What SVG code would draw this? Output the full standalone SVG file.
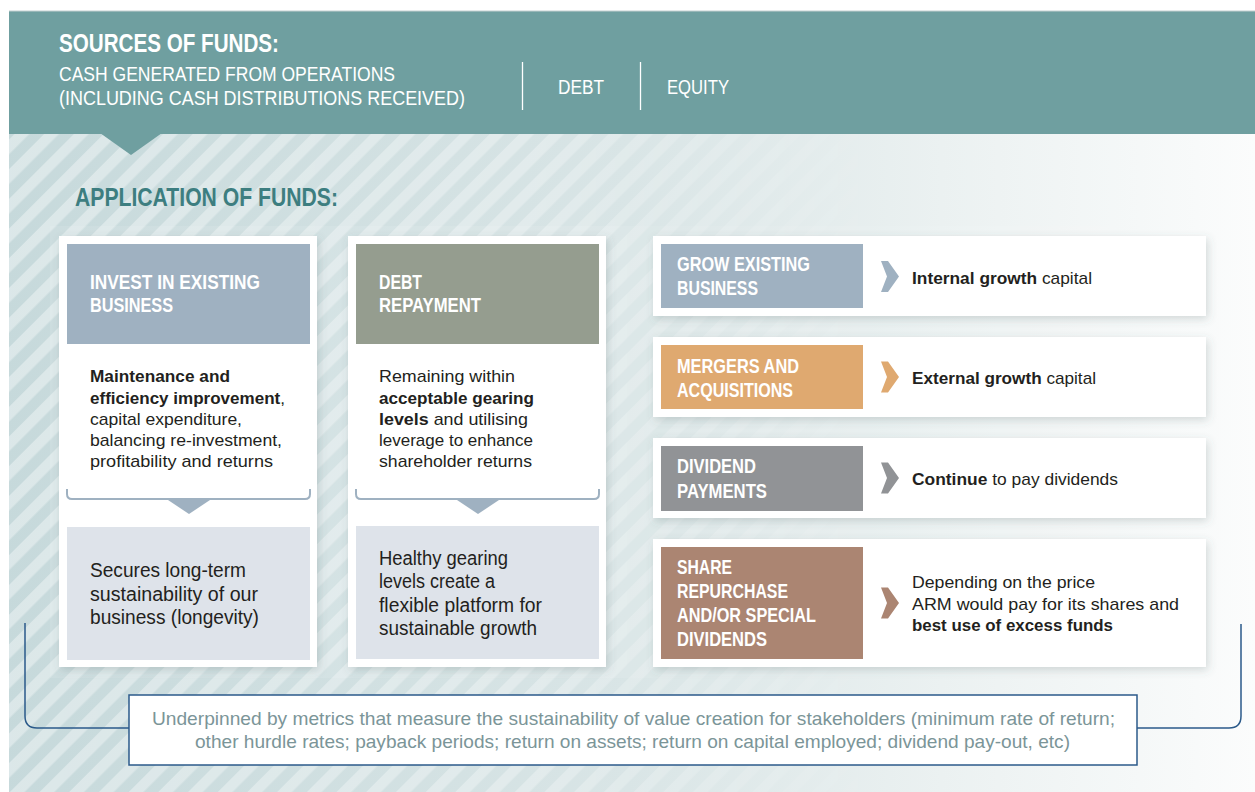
<svg xmlns="http://www.w3.org/2000/svg" width="1255" height="792" viewBox="0 0 1255 792">
<defs>
<style>
.cond{font-family:"Liberation Sans Narrow","Liberation Sans",Arial,sans-serif}
.hd{font-weight:bold;fill:#ffffff}
.hr{fill:#ffffff;font-size:19.5px}
.tl{font-weight:bold;fill:#ffffff;font-size:21px}
.tr{font-weight:bold;fill:#ffffff;font-size:20px}
.body{font-family:"Liberation Sans",Arial,sans-serif;fill:#231f20}
.s17{font-size:17px}
.s19{font-size:19.5px}
.b{font-weight:bold}
.card{fill:#ffffff;filter:url(#sh)}
.brk{fill:none;stroke:#9fb1c1;stroke-width:2}
.conn{fill:none;stroke:#2b5a8a;stroke-width:1.5}
.foot{font-family:"Liberation Sans",Arial,sans-serif;fill:#7b9598;font-size:18.5px}
</style>
<linearGradient id="bgG" x1="0" y1="0" x2="1255" y2="0" gradientUnits="userSpaceOnUse">
<stop offset="0" stop-color="#c6d9db"/>
<stop offset="0.5" stop-color="#d9e5e6"/>
<stop offset="0.75" stop-color="#ebf1f1"/>
<stop offset="1" stop-color="#fbfcfc"/>
</linearGradient>
<linearGradient id="fadeG" x1="0" y1="0" x2="1255" y2="0" gradientUnits="userSpaceOnUse">
<stop offset="0" stop-color="#ffffff"/>
<stop offset="0.42" stop-color="#ffffff" stop-opacity="0.8"/>
<stop offset="0.72" stop-color="#ffffff" stop-opacity="0"/>
</linearGradient>
<mask id="fadeM" maskUnits="userSpaceOnUse" x="0" y="0" width="1255" height="792">
<rect x="0" y="0" width="1255" height="792" fill="url(#fadeG)"/>
</mask>
<pattern id="stripes" patternUnits="userSpaceOnUse" width="21" height="21" patternTransform="rotate(45)">
<rect x="0" y="0" width="10.5" height="21" fill="#ffffff" fill-opacity="0.38"/>
</pattern>
<filter id="sh" x="-10%" y="-10%" width="125%" height="125%">
<feDropShadow dx="2" dy="3" stdDeviation="4" flood-color="#4a6266" flood-opacity="0.22"/>
</filter>
</defs>

<g id="background">
<rect x="9" y="134" width="1246" height="658" fill="url(#bgG)"/>
<rect x="9" y="134" width="1246" height="658" fill="url(#stripes)" mask="url(#fadeM)"/>
<rect x="50" y="226" width="577" height="452" fill="#ffffff" fill-opacity="0.1"/>
<rect x="627" y="226" width="620" height="452" fill="#ffffff" fill-opacity="0.08"/>
</g>

<g id="sources">
<rect x="9" y="11" width="1246" height="123" fill="#6f9fa0"/>
<line x1="9" y1="11" x2="1255" y2="11" stroke="#c3cfcf" stroke-width="1"/>
<polygon points="100,133 162,133 131,155" fill="#6f9fa0"/>
<text class="cond hd" x="59" y="52" font-size="25" textLength="220" lengthAdjust="spacingAndGlyphs">SOURCES OF FUNDS:</text>
<text class="cond hr" x="59" y="81" textLength="336" lengthAdjust="spacingAndGlyphs">CASH GENERATED FROM OPERATIONS</text>
<text class="cond hr" x="59" y="105" textLength="406" lengthAdjust="spacingAndGlyphs">(INCLUDING CASH DISTRIBUTIONS RECEIVED)</text>
<line x1="522.5" y1="62" x2="522.5" y2="110" stroke="#ffffff" stroke-width="1.3"/>
<text class="cond hr" x="558" y="94" textLength="46" lengthAdjust="spacingAndGlyphs">DEBT</text>
<line x1="640.5" y1="62" x2="640.5" y2="110" stroke="#ffffff" stroke-width="1.3"/>
<text class="cond hr" x="667" y="94" textLength="62" lengthAdjust="spacingAndGlyphs">EQUITY</text>
</g>

<g id="application-title">
<text class="cond" x="75" y="206" font-size="25" font-weight="bold" fill="#3d7e80" textLength="263" lengthAdjust="spacingAndGlyphs">APPLICATION OF FUNDS:</text>
</g>

<g id="invest-existing">
<rect class="card" x="59" y="236" width="258" height="431"/>
<rect x="67" y="244" width="243" height="100" fill="#9fb1c1"/>
<text class="cond tl" x="90" y="289" textLength="170" lengthAdjust="spacingAndGlyphs">INVEST IN EXISTING</text>
<text class="cond tl" x="90" y="312" textLength="83" lengthAdjust="spacingAndGlyphs">BUSINESS</text>
<text class="body s17 b" x="90" y="382" textLength="140" lengthAdjust="spacingAndGlyphs">Maintenance and</text>
<text class="body s17" x="90" y="404" textLength="195" lengthAdjust="spacingAndGlyphs"><tspan class="b">efficiency improvement</tspan>,</text>
<text class="body s17" x="90" y="425" textLength="152" lengthAdjust="spacingAndGlyphs">capital expenditure,</text>
<text class="body s17" x="90" y="446" textLength="192" lengthAdjust="spacingAndGlyphs">balancing re-investment,</text>
<text class="body s17" x="90" y="467" textLength="183" lengthAdjust="spacingAndGlyphs">profitability and returns</text>
<path class="brk" d="M67,489 V494 Q67,499 72,499 H305 Q310,499 310,494 V489"/>
<polygon points="168,500 210,500 189,514" fill="#9fb1c1"/>
<rect x="67" y="527" width="243" height="133" fill="#dee3ea"/>
<text class="body s19" x="90" y="577" textLength="156" lengthAdjust="spacingAndGlyphs">Secures long-term</text>
<text class="body s19" x="90" y="601" textLength="168" lengthAdjust="spacingAndGlyphs">sustainability of our</text>
<text class="body s19" x="90" y="624" textLength="169" lengthAdjust="spacingAndGlyphs">business (longevity)</text>
</g>

<g id="debt-repayment">
<rect class="card" x="348" y="236" width="258" height="431"/>
<rect x="356" y="244" width="243" height="100" fill="#959d8f"/>
<text class="cond tl" x="379" y="289" textLength="43" lengthAdjust="spacingAndGlyphs">DEBT</text>
<text class="cond tl" x="379" y="312" textLength="102" lengthAdjust="spacingAndGlyphs">REPAYMENT</text>
<text class="body s17" x="379" y="382" textLength="136" lengthAdjust="spacingAndGlyphs">Remaining within</text>
<text class="body s17 b" x="379" y="404" textLength="155" lengthAdjust="spacingAndGlyphs">acceptable gearing</text>
<text class="body s17" x="379" y="425" textLength="149" lengthAdjust="spacingAndGlyphs"><tspan class="b">levels</tspan> and utilising</text>
<text class="body s17" x="379" y="446" textLength="154" lengthAdjust="spacingAndGlyphs">leverage to enhance</text>
<text class="body s17" x="379" y="467" textLength="153" lengthAdjust="spacingAndGlyphs">shareholder returns</text>
<path class="brk" d="M356,489 V494 Q356,499 361,499 H594 Q599,499 599,494 V489"/>
<polygon points="457,500 499,500 478,514" fill="#9fb1c1"/>
<rect x="356" y="526" width="243" height="133" fill="#dee3ea"/>
<text class="body s19" x="379" y="565" textLength="129" lengthAdjust="spacingAndGlyphs">Healthy gearing</text>
<text class="body s19" x="379" y="588" textLength="116" lengthAdjust="spacingAndGlyphs">levels create a</text>
<text class="body s19" x="379" y="612" textLength="163" lengthAdjust="spacingAndGlyphs">flexible platform for</text>
<text class="body s19" x="379" y="635" textLength="158" lengthAdjust="spacingAndGlyphs">sustainable growth</text>
</g>

<g id="grow-existing">
<rect class="card" x="653" y="236" width="553" height="80"/>
<rect x="661" y="244" width="202" height="64" fill="#9fb1c1"/>
<text class="cond tr" x="677" y="271" textLength="133" lengthAdjust="spacingAndGlyphs">GROW EXISTING</text>
<text class="cond tr" x="677" y="295" textLength="81" lengthAdjust="spacingAndGlyphs">BUSINESS</text>
<polygon points="881,261 888,261 899,276.5 888,292 881,292 887,276.5" fill="#9fb1c1"/>
<text class="body s17" x="912" y="284" textLength="180" lengthAdjust="spacingAndGlyphs"><tspan class="b">Internal growth</tspan> capital</text>
</g>

<g id="mergers-acquisitions">
<rect class="card" x="653" y="337" width="553" height="80"/>
<rect x="661" y="345" width="202" height="64" fill="#dfa970"/>
<text class="cond tr" x="677" y="373" textLength="122" lengthAdjust="spacingAndGlyphs">MERGERS AND</text>
<text class="cond tr" x="677" y="397" textLength="116" lengthAdjust="spacingAndGlyphs">ACQUISITIONS</text>
<polygon points="881,361.5 888,361.5 899,377 888,392.5 881,392.5 887,377" fill="#dfa970"/>
<text class="body s17" x="912" y="384" textLength="184" lengthAdjust="spacingAndGlyphs"><tspan class="b">External growth</tspan> capital</text>
</g>

<g id="dividend-payments">
<rect class="card" x="653" y="438" width="553" height="80"/>
<rect x="661" y="446" width="202" height="65" fill="#919396"/>
<text class="cond tr" x="677" y="473" textLength="79" lengthAdjust="spacingAndGlyphs">DIVIDEND</text>
<text class="cond tr" x="677" y="498" textLength="90" lengthAdjust="spacingAndGlyphs">PAYMENTS</text>
<polygon points="881,462.5 888,462.5 899,478 888,493.5 881,493.5 887,478" fill="#919396"/>
<text class="body s17" x="912" y="485" textLength="206" lengthAdjust="spacingAndGlyphs"><tspan class="b">Continue</tspan> to pay dividends</text>
</g>

<g id="share-repurchase">
<rect class="card" x="653" y="539" width="553" height="128"/>
<rect x="661" y="547" width="202" height="112" fill="#ab8572"/>
<text class="cond tr" x="677" y="574" textLength="55" lengthAdjust="spacingAndGlyphs">SHARE</text>
<text class="cond tr" x="677" y="598" textLength="111" lengthAdjust="spacingAndGlyphs">REPURCHASE</text>
<text class="cond tr" x="677" y="622" textLength="139" lengthAdjust="spacingAndGlyphs">AND/OR SPECIAL</text>
<text class="cond tr" x="677" y="646" textLength="90" lengthAdjust="spacingAndGlyphs">DIVIDENDS</text>
<polygon points="881,587.5 888,587.5 899,603 888,618.5 881,618.5 887,603" fill="#ab8572"/>
<text class="body s17" x="912" y="588" textLength="183" lengthAdjust="spacingAndGlyphs">Depending on the price</text>
<text class="body s17" x="912" y="610" textLength="267" lengthAdjust="spacingAndGlyphs">ARM would pay for its shares and</text>
<text class="body s17 b" x="912" y="631" textLength="201" lengthAdjust="spacingAndGlyphs">best use of excess funds</text>
</g>

<g id="connectors">
<path class="conn" d="M25,623 V716 Q25,728 37,728 H129"/>
<path class="conn" d="M1241,624 V716 Q1241,728 1229,728 H1137"/>
</g>

<g id="metrics">
<rect x="129" y="695" width="1008" height="70" fill="#ffffff" stroke="#2b5a8a" stroke-width="1.5"/>
<text class="foot" x="152" y="725" textLength="963" lengthAdjust="spacingAndGlyphs">Underpinned by metrics that measure the sustainability of value creation for stakeholders (minimum rate of return;</text>
<text class="foot" x="195" y="748" textLength="875" lengthAdjust="spacingAndGlyphs">other hurdle rates; payback periods; return on assets; return on capital employed; dividend pay-out, etc)</text>
</g>
</svg>
